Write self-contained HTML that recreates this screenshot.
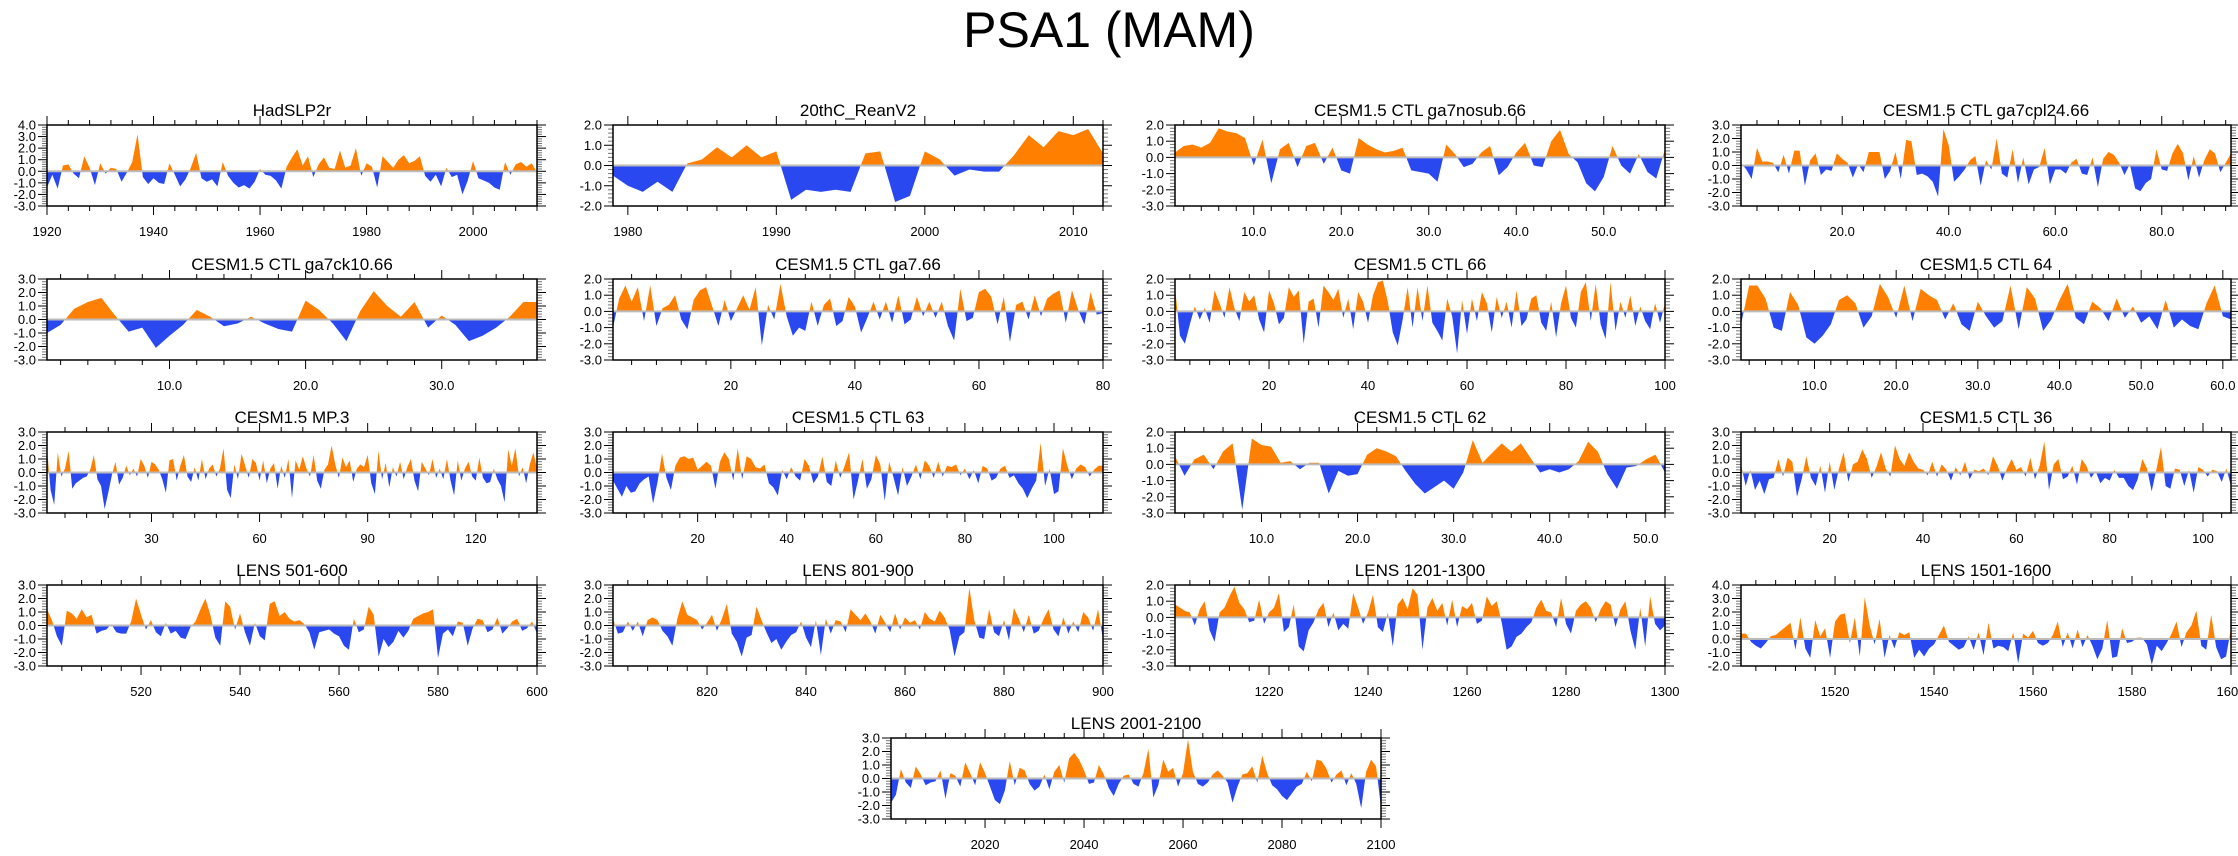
<!DOCTYPE html>
<html><head><meta charset="utf-8"><title>PSA1 (MAM)</title>
<style>
html,body{margin:0;padding:0;background:#fff;}
svg{display:block;font-family:"Liberation Sans",Arial,sans-serif;}
</style></head>
<body>
<svg id="chart" width="2238" height="856" viewBox="0 0 2238 856">
<text x="1109" y="47" font-size="50" text-anchor="middle" fill="#000">PSA1 (MAM)</text>
</svg>
<script>
const hadslp2r = [-1.4,-0.3,-1.5,0.5,0.6,-0.2,-0.6,1.3,0.3,-1.2,0.7,-0.2,0.3,0.2,-0.9,-0.1,0.8,3.2,-0.5,-1.1,-0.6,-1.0,-1.1,0.7,-0.3,-1.3,-0.7,0.3,1.6,-0.6,-0.9,-0.7,-1.3,0.8,-0.4,-1.0,-1.4,-1.2,-1.5,-0.9,0.2,-0.3,-0.4,-0.8,-1.5,0.4,1.2,1.9,0.5,1.3,-0.5,0.6,1.2,0.3,0.2,1.8,0.3,0.5,2.0,-0.4,0.7,0.4,-1.4,1.3,0.8,0.3,1.0,1.4,0.7,0.9,1.3,-0.4,-0.9,-0.3,-1.3,0.3,-0.5,-0.3,-2.0,-0.8,0.9,-0.6,-0.8,-1.0,-1.4,-1.6,0.8,-0.3,0.6,0.8,0.4,0.7,-0.1];
const reanv2 = [-0.5,-1.0,-1.3,-0.8,-1.3,0.1,0.3,0.9,0.4,1.0,0.4,0.7,-1.7,-1.2,-1.3,-1.2,-1.3,0.6,0.7,-1.8,-1.5,0.7,0.3,-0.5,-0.2,-0.3,-0.3,0.5,1.5,0.9,1.7,1.5,1.8,0.6];
const ga7nosub66 = [0.3,0.7,0.8,0.6,0.9,1.8,1.6,1.5,1.2,-0.5,1.1,-1.6,0.5,0.9,-0.6,0.7,0.9,-0.4,0.6,-0.8,-1.0,1.2,0.8,0.5,0.3,0.4,0.6,-0.8,-0.9,-1.0,-1.5,0.8,0.2,-0.6,-0.4,0.3,0.7,-1.1,-0.6,0.3,0.9,-0.5,-0.6,1.0,1.7,0.2,-0.3,-1.6,-2.1,-1.2,0.7,-0.5,-1.0,0.2,-0.9,-1.3,0.5];
const ga7cpl2466 = [0.2,-0.3,-1.0,1.3,0.3,0.3,0.2,-0.5,0.8,-0.6,1.1,1.1,-1.5,0.4,0.9,-0.7,-0.3,-0.4,0.9,0.5,0.2,-0.9,0.1,-0.5,1.0,1.0,1.0,-1.0,-0.4,1.0,-1.0,1.9,1.8,-0.7,-0.6,-0.8,-1.2,-2.3,2.7,1.5,-1.2,-0.8,-0.3,0.4,0.7,-1.5,0.4,-0.3,2.0,-0.6,-0.9,1.2,-1.3,0.6,-1.4,-0.3,-0.1,1.3,-1.4,-0.3,-0.3,-0.6,0.2,0.5,-0.6,-0.7,0.6,-1.6,0.5,1.0,0.8,0.2,-0.7,0.1,-1.7,-1.9,-1.3,-1.0,1.2,-0.3,-0.4,0.9,1.6,0.9,-1.1,0.7,-0.9,0.4,1.2,0.9,-0.5,0.2,0.9];
const ga7ck1066 = [-1.0,-0.4,0.8,1.3,1.6,0.3,-0.9,-0.6,-2.1,-1.2,-0.4,0.7,0.2,-0.5,-0.3,0.2,-0.3,-0.7,-0.9,1.4,0.7,-0.3,-1.6,0.6,2.1,1.0,0.2,1.3,-0.6,0.3,-0.4,-1.6,-1.2,-0.6,0.2,1.3,1.3];
const ga766 = [-1.0,0.8,1.6,0.6,1.5,-0.6,1.6,-0.9,0.2,0.4,1.0,-0.5,-1.1,0.7,1.3,1.5,0.3,-0.9,0.7,-0.6,0.2,1.0,0.1,1.5,-2.1,0.4,-0.5,1.7,-0.3,-1.5,-1.0,-1.2,0.6,-0.9,0.4,0.8,-0.9,-0.6,0.9,0.3,-1.3,-0.4,0.6,-0.5,0.6,-0.7,1.0,-0.8,-0.5,0.9,-0.3,0.6,-0.4,0.6,-0.9,-1.8,1.4,-0.6,-0.4,1.2,1.4,0.9,-0.8,0.9,-1.9,0.4,0.6,-0.5,1.0,-0.3,0.8,1.1,1.3,-0.7,1.3,0.1,-0.8,1.2,-0.2,-0.1];
const ctl66 = [1.5,-1.5,-2.0,-0.8,0.3,-0.5,0.2,-0.7,1.3,0.5,-0.4,1.5,0.2,-0.6,1.2,0.6,1.0,-0.5,-1.3,1.3,0.5,-0.8,-0.4,1.5,0.9,1.3,-2.0,0.6,0.8,-1.0,1.6,1.2,0.7,1.4,-0.4,0.8,-1.1,1.2,0.6,-0.7,1.0,1.8,1.9,0.6,-1.3,-2.1,-0.5,1.5,-1.0,1.5,-0.6,1.6,-0.7,-1.2,-1.8,0.8,-0.3,-2.6,0.7,-1.4,0.8,-0.6,1.2,0.5,-1.3,0.9,-0.4,0.6,-1.0,1.3,-0.9,-0.5,0.8,1.0,-0.7,-1.2,0.6,-1.6,0.5,1.6,-0.4,-1.0,1.2,1.8,-0.6,1.7,-0.8,-1.7,1.8,-1.2,0.6,-0.4,1.0,-0.9,0.3,-0.6,-1.1,0.5,-0.7,0.5];
const ctl64 = [-0.8,1.6,1.6,0.8,-1.0,-1.2,1.2,0.4,-1.6,-2.0,-1.5,-0.8,0.7,1.0,0.5,-1.0,-0.3,1.7,0.9,-0.4,1.6,-0.6,1.4,1.0,0.7,-0.5,0.5,-0.8,-1.2,0.6,-0.3,-1.0,-0.6,1.6,-1.1,1.5,0.8,-1.2,-0.5,0.7,1.7,-0.4,-0.8,0.6,0.2,-0.6,0.8,-0.4,0.3,-0.7,-0.3,-1.1,0.7,-1.0,-0.5,-0.9,-1.1,0.5,1.6,-0.3,-0.5];
const mp3 = [1.8,-1.3,-2.4,1.5,-0.3,0.3,1.6,-1.2,-0.8,-0.6,-0.4,-0.3,0.2,1.3,-0.5,-1.0,-2.7,-1.5,-0.2,0.8,-0.9,-0.4,0.5,-0.2,0.3,-0.3,1.0,0.5,-0.4,0.8,0.6,0.2,-0.5,-1.5,0.9,1.0,-0.6,0.5,1.3,-0.3,-0.7,0.4,-0.6,1.0,-0.5,0.3,0.6,-0.3,0.3,1.8,-1.3,-1.9,0.6,-0.5,1.4,0.5,-0.4,1.0,0.7,-0.6,0.9,-0.8,0.3,0.7,-1.2,0.5,-0.4,1.0,-1.9,0.9,0.2,1.2,0.3,-0.3,1.3,-0.6,-1.2,0.2,0.6,2.0,0.6,-0.4,1.1,0.4,0.9,-0.7,0.3,0.6,0.4,1.3,-0.8,-1.6,1.6,-0.5,0.7,-1.1,0.4,-0.3,0.8,-0.5,0.4,1.0,-0.6,-1.4,0.8,0.3,-0.2,1.0,-0.4,0.3,-0.5,1.0,-0.6,-1.7,0.9,-0.6,0.3,0.8,-0.3,-0.6,1.1,-0.4,-0.8,-0.7,0.3,-0.5,-1.0,-2.2,1.7,0.5,1.8,-0.3,0.4,-0.8,0.6,1.5,0.3];
const ctl63 = [-0.6,-1.2,-1.8,-1.0,-1.5,-1.4,-0.8,-0.5,-0.3,-2.3,-0.7,1.4,-0.4,-1.3,0.5,1.1,1.2,1.0,1.1,0.2,0.5,0.8,0.5,-1.2,0.8,1.5,1.0,-0.6,1.8,-0.5,1.2,1.0,0.4,0.3,0.6,-0.8,-1.1,-1.7,0.2,-0.5,0.4,-0.3,-0.6,1.0,0.5,-0.8,-0.3,1.2,-0.7,-1.0,0.9,-0.4,0.5,1.5,-2.0,-0.6,1.0,-1.2,-0.5,1.3,0.6,-2.1,0.8,-0.4,-1.7,0.4,-1.0,-0.3,0.6,-0.5,0.9,0.5,-0.4,0.8,-0.3,0.5,0.4,0.6,-0.2,0.3,-0.5,0.2,-0.8,0.5,0.3,-0.6,-0.4,0.3,0.5,-0.4,-0.2,-0.8,-1.2,-1.9,-1.2,-0.6,2.2,-1.0,0.3,-1.6,-1.4,1.8,0.5,-0.5,0.3,0.6,0.4,-0.3,0.2,0.5,0.5];
const ctl62 = [0.5,-0.7,0.3,0.6,-0.3,0.8,1.3,-2.8,1.6,1.2,1.1,0.1,0.2,-0.3,0.1,0.1,-1.8,-0.4,-0.7,-0.6,0.6,1.0,0.8,0.5,-0.4,-1.2,-1.8,-1.4,-1.0,-1.5,-0.5,1.5,0.1,0.7,1.3,0.8,1.3,0.4,-0.5,-0.3,-0.5,-0.3,0.2,1.4,0.8,-0.6,-1.5,-0.2,-0.1,0.3,0.6,-0.5];
const ctl36 = [0.6,-1.0,0.2,-1.3,-0.6,-1.6,-0.5,-0.4,1.0,-0.3,1.1,0.8,-1.8,-0.5,1.2,-0.4,-1.0,0.5,-1.5,0.8,-1.3,0.3,1.5,-0.7,0.6,0.8,1.7,1.0,-0.4,0.4,1.5,0.3,-0.3,2.0,1.0,0.5,1.5,0.8,0.3,0.2,-0.2,0.8,-0.3,0.6,0.2,-0.6,0.4,-0.2,0.8,-0.5,0.2,0.1,0.3,-0.2,1.2,0.5,-0.6,0.3,1.0,0.2,0.4,-0.3,1.1,-0.5,0.5,2.3,-1.3,0.6,1.0,-0.5,-0.3,0.5,-0.9,1.0,0.5,-0.4,0.1,-0.8,-0.4,-0.6,0.2,-0.4,-0.4,-1.0,-1.3,-0.5,1.0,0.3,-1.4,0.2,1.9,-1.0,-1.2,0.3,0.2,-1.0,0.2,-1.5,0.4,0.2,-0.3,0.2,0.1,-0.7,0.3,-1.0];
const lens501 = [1.2,0.4,-0.8,-1.5,1.1,0.9,0.5,1.2,0.6,0.8,-0.6,-0.4,-0.3,0.1,-0.5,-0.6,-0.6,0.3,2.0,0.8,-0.3,0.4,-0.5,-0.8,0.2,-0.6,-0.4,-0.9,-1.0,-0.1,0.3,1.2,2.0,0.8,-0.9,-1.5,1.8,1.4,-0.3,0.9,-0.5,-1.5,0.2,-0.8,-1.1,1.6,1.8,0.7,1.0,0.5,0.3,0.4,0.1,-0.5,-1.8,-0.5,-0.4,-0.3,-0.6,-0.8,-1.5,-1.8,0.5,-0.5,-0.3,1.4,0.8,-2.3,-1.0,-1.6,-1.2,-0.4,-0.9,-0.4,0.5,0.7,0.9,1.0,1.2,-2.4,-0.6,-0.3,-0.8,0.3,0.2,-1.5,-0.2,0.5,0.4,-0.5,-0.3,0.6,-0.6,-0.2,0.3,0.5,-0.4,-0.2,0.3,-0.6];
const lens801 = [0.5,-0.6,-0.5,0.3,-0.4,0.3,-0.8,0.4,0.6,0.4,-0.4,-0.8,-1.5,0.5,1.8,0.8,0.6,0.4,-0.3,0.2,0.8,-0.4,0.5,1.6,-0.6,-1.2,-2.3,-0.9,-0.7,1.4,0.4,-0.5,-1.3,-1.0,-1.8,-1.2,-0.7,-0.5,0.3,-0.9,-1.6,0.4,-2.2,0.5,-0.6,0.4,0.3,-0.5,1.2,0.8,0.4,0.9,0.3,-0.6,0.8,0.2,-0.5,0.9,-0.3,0.6,0.2,0.4,-0.3,1.0,0.5,0.3,1.1,0.6,-0.3,-2.3,-0.8,-0.5,2.8,0.4,-0.9,-1.0,1.2,-0.5,-0.8,0.4,-1.1,1.3,0.5,-0.5,0.8,-0.6,-0.4,0.5,1.2,-0.3,-0.8,0.6,-0.6,0.3,-0.5,1.0,0.6,-0.4,1.2,-1.0];
const lens1201 = [0.8,0.6,0.4,0.3,-0.5,0.5,1.0,-0.8,-1.5,0.3,0.6,1.3,1.9,0.9,0.5,-0.3,-0.2,1.1,-0.4,0.3,0.6,1.5,-0.9,-0.6,0.8,-1.8,-2.1,-0.8,-0.3,0.5,0.9,-0.6,0.3,-0.8,-0.4,-0.7,1.5,0.6,-0.4,0.3,1.4,-0.6,-0.9,0.3,-1.8,0.8,1.2,0.5,1.8,1.4,-2.0,0.6,1.2,0.4,0.9,-0.5,1.1,-0.6,0.7,0.5,0.9,-0.4,-0.2,1.3,0.7,1.0,-0.3,-2.0,-1.8,-1.2,-1.0,-0.6,-0.3,0.6,1.1,0.4,0.3,-0.6,1.2,-0.4,-1.0,0.4,0.8,1.0,0.6,-0.3,0.5,1.0,0.8,-0.6,0.5,1.0,-0.8,-2.0,0.6,-1.8,1.3,-0.4,-0.8,-0.5];
const lens1501 = [0.4,0.4,-0.2,-0.5,-0.7,-0.3,0.2,0.3,0.6,0.9,1.2,-0.8,1.6,-0.7,-1.4,1.4,0.2,0.8,-1.4,1.3,1.8,1.9,-0.3,1.6,-1.3,3.1,1.0,-0.4,1.5,-1.4,0.3,-0.7,0.5,0.3,0.5,-1.4,-0.8,-1.3,-0.7,-0.4,0.3,1.0,-0.2,-0.5,-0.8,-0.6,0.2,-0.8,0.5,-1.2,1.2,-0.7,-0.5,-0.6,-0.9,0.5,-1.8,0.4,0.1,0.6,-0.3,-0.5,-0.3,0.3,1.3,-0.6,0.5,-0.7,0.7,-0.6,0.3,-0.5,-1.5,-0.7,1.4,-1.4,-1.3,0.8,-0.3,-0.2,0.1,0.1,-0.4,-1.9,-0.5,-0.9,-0.3,0.4,1.3,-0.6,0.5,1.0,2.1,-0.5,-0.8,1.8,-0.6,-1.5,-1.3,0.8];
const lens2001 = [-1.8,-1.2,0.7,-0.3,-0.7,0.9,0.3,-0.5,-0.3,-0.2,0.6,-1.5,0.4,0.2,-0.6,1.2,0.4,-0.5,1.2,0.4,-0.6,-1.6,-1.9,-0.9,1.3,-0.5,0.8,0.6,-0.4,-0.9,-0.6,0.3,-0.8,0.5,1.0,-0.3,1.5,1.9,1.4,0.6,-0.4,-0.3,1.0,0.3,-0.7,-1.3,-0.4,0.2,0.3,-0.4,-0.6,0.4,2.2,-1.4,-0.5,1.4,0.5,0.8,-0.6,0.4,2.9,0.5,-0.4,-0.6,-0.3,0.3,0.6,0.2,-0.3,-1.8,-0.6,0.3,0.4,0.9,-0.3,1.7,0.4,-0.5,-0.8,-1.3,-1.6,-1.1,-0.6,-0.4,0.5,-0.2,1.4,1.3,0.7,-0.3,0.3,0.6,-0.5,0.4,-0.4,-2.2,0.5,1.4,0.9,-2.1];

const panelTitles = ["HadSLP2r","20thC_ReanV2","CESM1.5 CTL ga7nosub.66","CESM1.5 CTL ga7cpl24.66","CESM1.5 CTL ga7ck10.66","CESM1.5 CTL ga7.66","CESM1.5 CTL 66","CESM1.5 CTL 64","CESM1.5 MP.3","CESM1.5 CTL 63","CESM1.5 CTL 62","CESM1.5 CTL 36","LENS 501-600","LENS 801-900","LENS 1201-1300","LENS 1501-1600","LENS 2001-2100"];
const panelSeries = [hadslp2r,reanv2,ga7nosub66,ga7cpl2466,ga7ck1066,ga766,ctl66,ctl64,mp3,ctl63,ctl62,ctl36,lens501,lens801,lens1201,lens1501,lens2001];
const panelStartX = [1920,1979,1,1,1,1,1,1,1,1,1,1,501,801,1201,1501,2001];
const panelYMin = [-3,-2,-3,-3,-3,-3,-3,-3,-3,-3,-3,-3,-3,-3,-3,-2,-3];
const panelYMax = [4,2,2,3,3,2,2,2,3,3,2,3,3,3,2,4,3];
const panelXTicks = [[1920,1940,1960,1980,2000],[1980,1990,2000,2010],[10,20,30,40,50],[20,40,60,80],[10,20,30],[20,40,60,80],[20,40,60,80,100],[10,20,30,40,50,60],[30,60,90,120],[20,40,60,80,100],[10,20,30,40,50],[20,40,60,80,100],[520,540,560,580,600],[820,840,860,880,900],[1220,1240,1260,1280,1300],[1520,1540,1560,1580,1600],[2020,2040,2060,2080,2100]];
const panelDecimalTicks = [false,false,true,true,true,false,false,true,false,false,true,false,false,false,false,false,false];

const svg = document.getElementById('chart');
const NS = 'http://www.w3.org/2000/svg';
const colLeft = [47,613,1175,1741];
const rowTop = [125,279,432,585,738];
const PW = 490, PH = 81;
function mk(tag, attrs, parent){
  const e = document.createElementNS(NS, tag);
  for (const k in attrs) e.setAttribute(k, attrs[k]);
  (parent||svg).appendChild(e);
  return e;
}
panelTitles.forEach((title, i) => {
  const L = i < 16 ? colLeft[i % 4] : 891;
  const T = rowTop[Math.floor(i / 4)];
  const data = panelSeries[i];
  const x0 = panelStartX[i], x1 = x0 + data.length - 1;
  const ymin = panelYMin[i], ymax = panelYMax[i];
  const sx = v => L + (v - x0) / (x1 - x0) * PW;
  const sy = v => T + (ymax - v) / (ymax - ymin) * PH;
  const g = mk('g', {});
  
  
  const t = mk('text', {x: L + PW/2, y: T - 9, 'font-size': 17, 'text-anchor': 'middle'}, g);
  t.textContent = title;
  
  
  const y0 = sy(0);
  let d = 'M' + sx(x0) + ',' + y0;
  data.forEach((v, k) => { d += ' L' + sx(x0 + k).toFixed(2) + ',' + sy(v).toFixed(2); });
  d += ' L' + sx(x1) + ',' + y0 + ' Z';
  const cu = 'cu' + i, cd = 'cd' + i;
  const defs = mk('defs', {}, g);
  const c1 = mk('clipPath', {id: cu}, defs); mk('rect', {x: L, y: T, width: PW, height: y0 - T}, c1);
  const c2 = mk('clipPath', {id: cd}, defs); mk('rect', {x: L, y: y0, width: PW, height: T + PH - y0}, c2);
  const pos = mk('path', {d: d, fill: '#ff8000', 'clip-path': 'url(#' + cu + ')'}, g);
  
  
  const neg = mk('path', {d: d, fill: '#2a48f0', 'clip-path': 'url(#' + cd + ')'}, g);
  
  
  mk('line', {x1: L, x2: L + PW, y1: y0, y2: y0, stroke: '#bbb', 'stroke-width': 2}, g);
  // y ticks (outward on both sides)
  for (let v = ymin; v <= ymax + 1e-9; v += 0.2) {
    const y = sy(v), major = Math.abs(v - Math.round(v)) < 1e-6;
    const len = major ? 9 : 5;
    mk('line', {x1: L, x2: L - len, y1: y, y2: y, stroke: major ? '#000' : '#777', 'stroke-width': 1}, g);
    mk('line', {x1: L + PW, x2: L + PW + len, y1: y, y2: y, stroke: major ? '#000' : '#777', 'stroke-width': 1}, g);
    if (major) {
      const yl = mk('text', {x: L - 11, y: y + 4.5, 'font-size': 13, 'text-anchor': 'end'}, g);
      yl.textContent = Math.round(v).toFixed(1);
      
      
    }
  }
  // x ticks
  const ticks = panelXTicks[i];
  const step = ticks[1] - ticks[0];
  const minor = step / 5;
  for (let v = ticks[0] - step; v <= x1 + 1e-9; v += minor) {
    if (v < x0 - 1e-9) continue;
    const x = sx(v);
    const major = ticks.some(tv => Math.abs(tv - v) < 1e-6);
    const len = major ? 9 : 5;
    mk('line', {x1: x, x2: x, y1: T, y2: T - len, stroke: '#000', 'stroke-width': 1}, g);
    mk('line', {x1: x, x2: x, y1: T + PH, y2: T + PH + len, stroke: '#000', 'stroke-width': 1}, g);
  }
  ticks.forEach(tv => {
    if (tv < x0 || tv > x1) return;
    const xl = mk('text', {x: sx(tv), y: T + PH + 30, 'font-size': 13, 'text-anchor': 'middle'}, g);
    xl.textContent = panelDecimalTicks[i] ? tv.toFixed(1) : String(tv);
    
    
  });
  mk('rect', {x: L, y: T, width: PW, height: PH, fill: 'none', stroke: '#000', 'stroke-width': 1.5}, g);
});
</script>
</body></html>
